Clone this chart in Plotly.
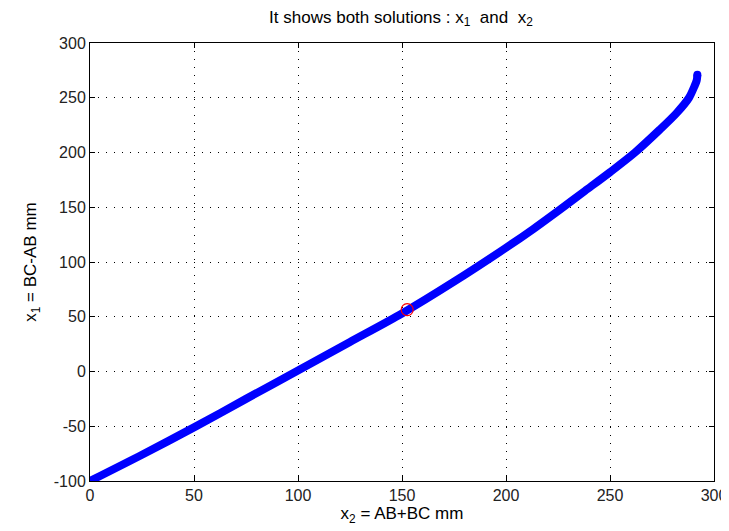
import plotly.graph_objects as go

# Curve: x2 = AB+BC (mm), x1 = BC-AB (mm)
x2_vals = [0, 25, 50, 75, 100, 125, 150, 175, 200, 213, 226, 238, 250, 262, 274, 282, 288, 290.5, 291.7, 292]
x1_vals = [-100, -76, -51, -25, 1, 27, 53, 82, 113, 130, 148, 165, 182, 200, 221, 236, 250, 260, 266, 271]

# Highlighted solution point
mark_x2 = [152.5]
mark_x1 = [56.5]

x_ticks = [0, 50, 100, 150, 200, 250, 300]
x_tick_text = ["0", "50", "100", "150", "200", "250", "300"]
y_ticks = [-100, -50, 0, 50, 100, 150, 200, 250, 300]
y_tick_text = ["-100", "-50", "0", "50", "100", "150", "200", "250", "300"]

FONT = "Liberation Sans, Arial, sans-serif"

fig = go.Figure()
fig.add_trace(go.Scatter(
    x=x2_vals, y=x1_vals, mode="lines",
    line=dict(color="#0000FF", width=8, shape="spline", smoothing=0.8),
    showlegend=False,
))
# round end caps
fig.add_trace(go.Scatter(
    x=[x2_vals[0], x2_vals[-1]], y=[x1_vals[0], x1_vals[-1]], mode="markers",
    marker=dict(color="#0000FF", size=8), showlegend=False,
))
fig.add_trace(go.Scatter(
    x=mark_x2, y=mark_x1, mode="markers",
    marker=dict(symbol="circle-open", color="#FF0000", size=12, line=dict(width=1.2, color="#FF0000")),
    showlegend=False,
))

axis_common = dict(
    showline=True, linecolor="black", linewidth=1, mirror="ticks",
    ticks="inside", ticklen=5, tickcolor="black",
    showgrid=True, gridcolor="black", gridwidth=1, griddash="1px,7px",
    zeroline=False, automargin=False,
    tickfont=dict(family=FONT, size=16, color="#222222"),
)

# page body has an 8px margin, so the figure is 721x523 and left/top offsets are reduced by 8
fig.update_layout(
    width=721, height=523,
    margin=dict(l=82, r=15, t=35, b=50),
    paper_bgcolor="white", plot_bgcolor="white",
    title=dict(text="It shows both solutions : x<sub>1</sub>  and  x<sub>2</sub>",
               x=0.545, xanchor="center", y=0.995, yanchor="top",
               font=dict(family=FONT, size=17, color="black")),
    xaxis=dict(range=[0, 300], tickvals=x_ticks, ticktext=x_tick_text,
               title=dict(text="x<sub>2</sub> = AB+BC mm", standoff=3,
                          font=dict(family=FONT, size=17, color="black")),
               **axis_common),
    yaxis=dict(range=[-100, 300], tickvals=y_ticks, ticktext=y_tick_text,
               title=dict(text="x<sub>1</sub> = BC-AB mm", standoff=12,
                          font=dict(family=FONT, size=17, color="black")),
               **axis_common),
)

fig.write_html("out.html")
